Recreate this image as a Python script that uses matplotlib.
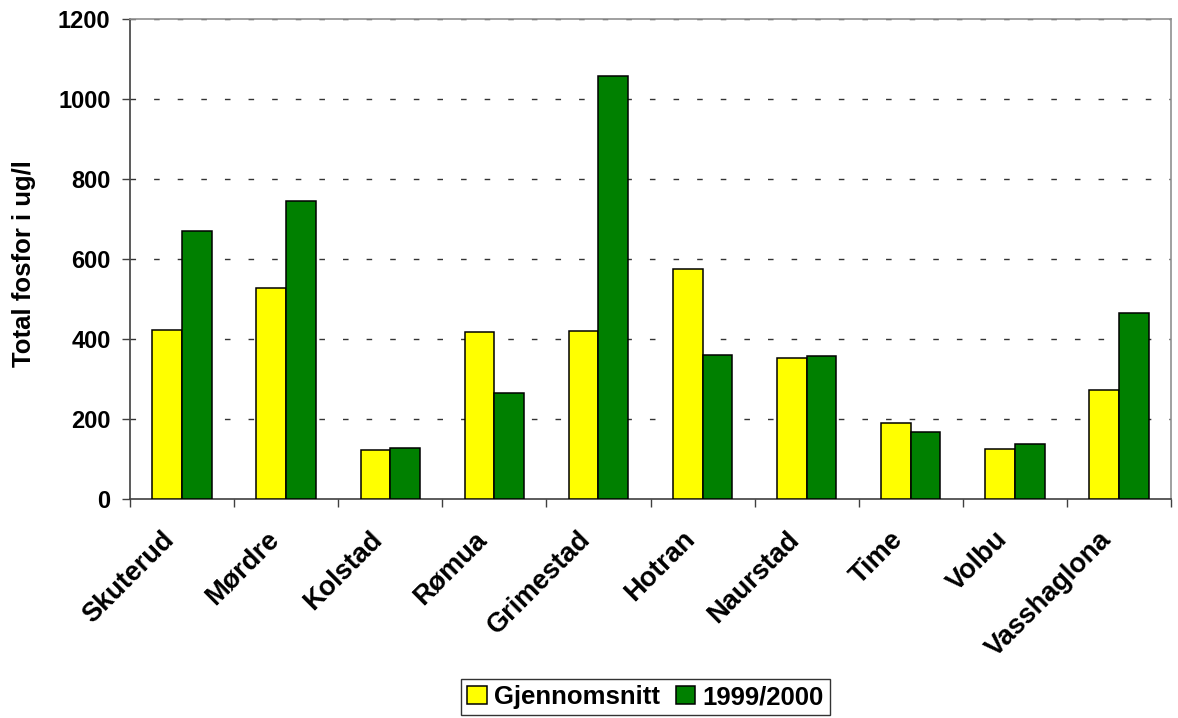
import numpy as np
import matplotlib.pyplot as plt

plt.rcParams['font.family'] = ['Liberation Sans', 'DejaVu Sans']
plt.rcParams['font.weight'] = 'bold'

stations = ['Skuterud', 'Mørdre', 'Kolstad', 'Rømua', 'Grimestad',
            'Hotran', 'Naurstad', 'Time', 'Volbu', 'Vasshaglona']
snitt = [422, 528, 122, 417, 421, 576, 353, 189, 125, 272]
aar_9900 = [669, 746, 127, 265, 1058, 359, 356, 166, 138, 466]
series_names = ['Gjennomsnitt', '1999/2000']
y_ticks = [0, 200, 400, 600, 800, 1000, 1200]

fig = plt.figure(figsize=(11.78, 7.18), dpi=100)
ax = fig.add_axes([130/1178, 1 - 498.7/718, 1041/1178, 479.4/718])

x = np.arange(len(stations))
w = 2 / 7  # gap width 150 %
ax.bar(x - w/2, snitt, w, color='#ffff00', edgecolor='black', linewidth=1.1,
       label=series_names[0], zorder=3)
ax.bar(x + w/2, aar_9900, w, color='#008000', edgecolor='black', linewidth=1.1,
       label=series_names[1], zorder=3)

ax.set_xlim(-0.5, len(stations) - 0.5)
ax.set_ylim(0, 1200)
ax.set_yticks(y_ticks)
ax.set_yticklabels([str(v) for v in y_ticks], fontsize=17, fontweight='bold')
for v in y_ticks[1:]:
    ax.axhline(v, color='#333333', linewidth=1.0, dashes=(4, 13), zorder=1)

# category labels end a little left of the group centre; tick marks sit between categories
ax.set_xticks(x - 0.2)
ax.set_xticklabels(stations, fontsize=19.5, fontweight='bold', rotation=45,
                   ha='right', va='top', rotation_mode='anchor')
ax.set_xticks(np.arange(-0.5, len(stations)), minor=True)
ax.tick_params(axis='x', which='major', length=0, pad=20)
ax.tick_params(axis='x', which='minor', length=6, width=1, color='#404040', direction='out')
ax.tick_params(axis='y', length=6, width=1, color='#404040', direction='out', pad=8)

for side in ['left', 'bottom']:
    ax.spines[side].set_color('#404040')
    ax.spines[side].set_linewidth(1.2)
for side in ['top', 'right']:
    ax.spines[side].set_color('#909090')
    ax.spines[side].set_linewidth(1.2)

ax.set_ylabel('Total fosfor i ug/l', fontsize=18.5, fontweight='bold')
ax.yaxis.set_label_coords(-0.090, 0.49)

leg = ax.legend(loc='lower center', bbox_to_anchor=(0.548, 0.0), bbox_transform=fig.transFigure,
                ncol=2, fontsize=18.5, frameon=True, fancybox=False, edgecolor='black',
                handlelength=0.75, handleheight=0.75, handletextpad=0.3, columnspacing=0.6,
                borderpad=0.25, borderaxespad=0.1)
leg.get_frame().set_linewidth(1.0)
for t in leg.get_texts():
    t.set_fontweight('bold')

fig.savefig('out.png', dpi=100)
